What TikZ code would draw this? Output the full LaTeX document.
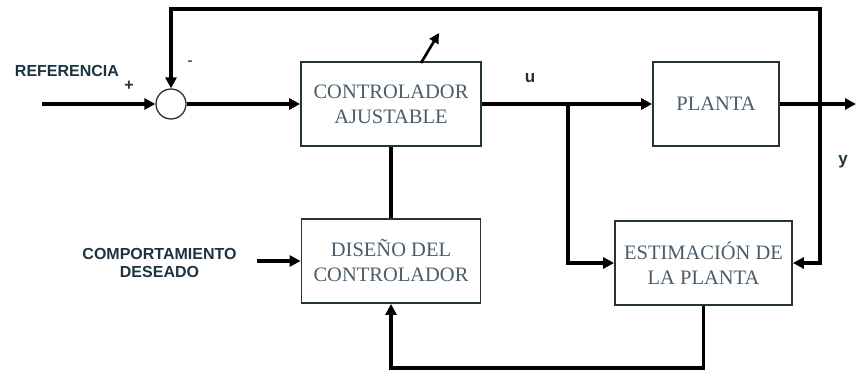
\documentclass[tikz,border=0pt]{standalone}
\usepackage{fontspec}
\setmainfont{Liberation Serif}
\setsansfont{Liberation Sans}
\usetikzlibrary{arrows.meta}
\definecolor{boxc}{HTML}{22343C}
\definecolor{txtc}{HTML}{4A5C68}
\definecolor{lblc}{HTML}{1C3442}
\begin{document}
\begin{tikzpicture}[x=1pt,y=-1pt,
  blk/.style={draw=boxc, line width=1.8pt, text=txtc, align=center, inner sep=0pt,
    font=\fontsize{20.5}{25}\selectfont, minimum height=84pt},
  wire/.style={line width=3.4pt, black},
  arr/.style={wire, -{Triangle[length=11pt,width=11pt]}},
  lbl/.style={font=\sffamily\bfseries\fontsize{16}{18}\selectfont, text=lblc, inner sep=0pt, align=center}]
\useasboundingbox (0,0) rectangle (856,371);

% blocks
\node[blk, minimum width=180pt] (ctrl) at (391,104) {CONTROLADOR\\AJUSTABLE};
\node[blk, minimum width=126pt] (planta) at (716,104) {PLANTA};
\node[blk, minimum width=179pt] (dis) at (391,261) {DISEÑO DEL\\CONTROLADOR};
\node[blk, minimum width=177pt] (est) at (703.5,263) {ESTIMACIÓN DE\\LA PLANTA};
\node[circle, draw=boxc, line width=1.3pt, minimum size=30pt, inner sep=0pt] (sum) at (171,104) {};

% labels
\node[lbl] (lref) at (67,71) {REFERENCIA};
\node[lbl, font=\sffamily\bfseries\fontsize{16}{16}\selectfont] (lplus) at (129,86) {+};
\node[lbl, text=txtc, font=\sffamily\bfseries\fontsize{15}{15}\selectfont] (lminus) at (190,63) {-};
\node[lbl, font=\sffamily\bfseries\fontsize{17}{17}\selectfont] (lu) at (530,78) {u};
\node[lbl, font=\sffamily\bfseries\fontsize{17}{17}\selectfont] (ly) at (843,162) {y};
\node[lbl] (lcd) at (159.5,262.5) {COMPORTAMIENTO\\DESEADO};

% coordinates
\coordinate (refin) at (42,104);
\coordinate (jy) at (820,104);
\coordinate (tr) at (820,9);
\coordinate (tl) at (171,9);
\coordinate (out) at (856,104);
\coordinate (ju) at (568,104);
\coordinate (bot) at (0,368);
\coordinate (cdin) at (257,261);
\coordinate (adj1) at (421,63);
\coordinate (adj2) at (439,33);

% connectors
\draw[arr] (refin) -- (sum.west);
\draw[arr] (sum.east) -- (ctrl.west);
\draw[arr] (ctrl.east) -- (planta.west);
\draw[arr] (planta.east) -- (out);
\draw[arr] (jy) -- (tr) -- (tl) -- (sum.north);
\draw[arr] (jy) |- (est.east);
\draw[arr] (ju) |- (est.west);
\draw[wire] (dis.north) -- (ctrl.south);
\draw[arr] (est.south) -- (est.south |- bot) -| (dis.south);
\draw[arr] (cdin) -- (dis.west);
\draw[wire, line width=2.6pt, -{Triangle[length=10pt,width=10pt]}] (adj1) -- (adj2);
\end{tikzpicture}
\end{document}
